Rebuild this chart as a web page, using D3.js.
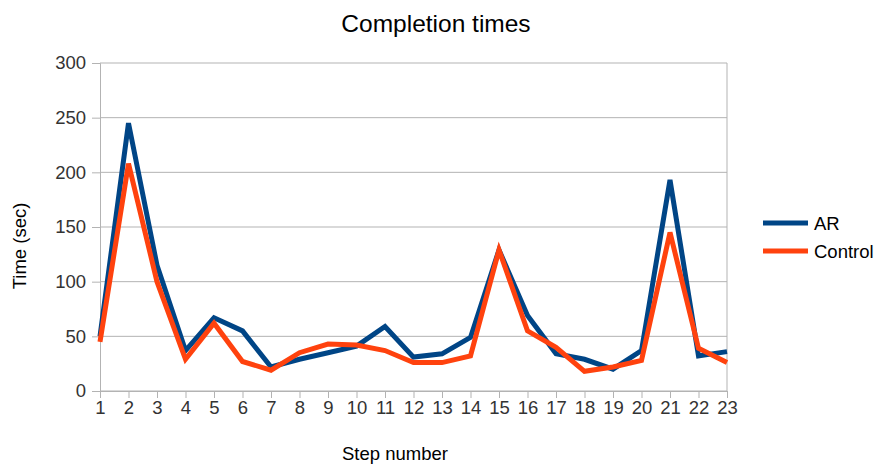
<!DOCTYPE html>
<html>
<head>
<meta charset="utf-8">
<script src="https://cdn.jsdelivr.net/npm/d3@7"></script>
<style>
  body { margin: 0; background: #fff; }
  svg { display: block; font-family: "Liberation Sans", Arial, sans-serif; }
</style>
</head>
<body>
<svg id="chart" width="877" height="466"></svg>
<script>
// Completion time per step (seconds)
const steps = d3.range(1, 24);
const arTimes = [50, 245, 115, 37, 67, 55, 22, 29, 35, 41, 59, 31, 34, 49, 129, 69, 34, 29, 20, 37, 193, 32, 36];
const controlTimes = [45, 208, 100, 29, 62, 27, 19, 35, 43, 42, 37, 26, 26, 32, 129, 55, 40, 18, 22, 28, 145, 39, 26];
const yTicks = [0, 50, 100, 150, 200, 250, 300];
const seriesNames = ["AR", "Control"];
const seriesColors = ["#004586", "#ff420e"];

const svg = d3.select("#chart");
const margin = { left: 100, right: 150, top: 63, bottom: 75 };
const W = 877, H = 466;
const tickFont = 18.5;

const x = d3.scaleLinear().domain([1, 23]).range([margin.left, W - margin.right]);
const y = d3.scaleLinear().domain([0, 300]).range([H - margin.bottom, margin.top]);

// Horizontal grid lines
svg.append("g")
  .selectAll("line")
  .data(yTicks)
  .join("line")
  .attr("x1", x(1)).attr("x2", x(23))
  .attr("y1", d => y(d)).attr("y2", d => y(d))
  .attr("stroke", "#b3b3b3").attr("stroke-width", 1);

// Right frame edge
svg.append("line")
  .attr("x1", x(23)).attr("x2", x(23))
  .attr("y1", y(300)).attr("y2", y(0))
  .attr("stroke", "#b3b3b3");

// Y axis
const yAxis = svg.append("g")
  .attr("transform", `translate(${x(1)},0)`)
  .call(d3.axisLeft(y).tickValues(yTicks).tickSize(8).tickPadding(6));
yAxis.select(".domain").attr("stroke", "#b3b3b3");
yAxis.selectAll(".tick line").attr("stroke", "#b3b3b3");
yAxis.selectAll("text").attr("font-size", tickFont).attr("fill", "#333").attr("font-family", "Liberation Sans, Arial, sans-serif");

// X axis
const xAxis = svg.append("g")
  .attr("transform", `translate(0,${y(0)})`)
  .call(d3.axisBottom(x).tickValues(steps).tickFormat(d3.format("d")).tickSize(7).tickPadding(3));
xAxis.select(".domain").attr("stroke", "#b3b3b3");
xAxis.selectAll(".tick line").attr("stroke", "#b3b3b3");
xAxis.selectAll("text").attr("font-size", tickFont).attr("fill", "#333").attr("font-family", "Liberation Sans, Arial, sans-serif");

// Series lines
const line = d3.line().x((d, i) => x(steps[i])).y(d => y(d));
[arTimes, controlTimes].forEach((vals, k) => {
  svg.append("path")
    .datum(vals)
    .attr("d", line)
    .attr("fill", "none")
    .attr("stroke", seriesColors[k])
    .attr("stroke-width", 5)
    .attr("stroke-linejoin", "miter");
});

// Title
svg.append("text")
  .attr("x", 436).attr("y", 32)
  .attr("text-anchor", "middle")
  .attr("font-size", 24.5).attr("fill", "#000")
  .text("Completion times");

// Axis titles
svg.append("text")
  .attr("x", 395).attr("y", 460)
  .attr("text-anchor", "middle")
  .attr("font-size", 18.5).attr("fill", "#000")
  .text("Step number");

svg.append("text")
  .attr("transform", `translate(26,246) rotate(-90)`)
  .attr("text-anchor", "middle")
  .attr("font-size", 18.5).attr("fill", "#000")
  .text("Time (sec)");

// Legend
const legend = svg.append("g");
seriesNames.forEach((name, k) => {
  const ly = 223 + k * 28;
  legend.append("line")
    .attr("x1", 763).attr("x2", 808)
    .attr("y1", ly).attr("y2", ly)
    .attr("stroke", seriesColors[k]).attr("stroke-width", 5);
  legend.append("text")
    .attr("x", 814).attr("y", ly + 6.5)
    .attr("font-size", 18.5).attr("fill", "#000")
    .text(name);
});
</script>
</body>
</html>
